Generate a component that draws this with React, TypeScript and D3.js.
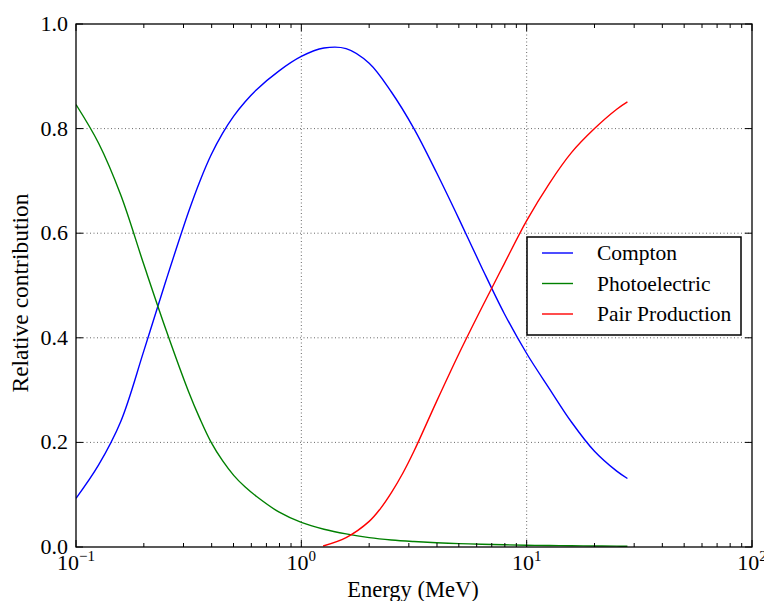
import React from "react";
import * as d3 from "d3";

const energies = [0.1, 0.126, 0.158, 0.2, 0.251, 0.316, 0.355, 0.398, 0.447, 0.501, 0.562, 0.631, 0.794, 1, 1.26, 1.58, 2, 2.51, 3.16, 3.98, 5.01, 6.31, 7.94, 10, 12.6, 15.8, 20, 25.1, 28];
const compton = [0.093, 0.157, 0.24, 0.375, 0.51, 0.641, 0.7, 0.75, 0.791, 0.824, 0.851, 0.874, 0.91, 0.938, 0.954, 0.953, 0.925, 0.87, 0.8, 0.716, 0.627, 0.535, 0.447, 0.37, 0.303, 0.239, 0.183, 0.145, 0.131];
const photoelectric = [0.846, 0.772, 0.673, 0.54, 0.415, 0.297, 0.245, 0.2, 0.165, 0.137, 0.115, 0.097, 0.067, 0.047, 0.034, 0.025, 0.018, 0.0135, 0.0105, 0.0082, 0.0065, 0.0052, 0.0042, 0.0034, 0.0028, 0.0023, 0.0019, 0.0016, 0.0015];
const pairEnergies = [1.25, 1.58, 2, 2.24, 2.51, 2.82, 3.16, 3.98, 5.01, 6.31, 7.94, 10, 12.6, 15.8, 20, 25.1, 28];
const pairProduction = [0.002, 0.018, 0.049, 0.073, 0.104, 0.141, 0.183, 0.278, 0.37, 0.457, 0.541, 0.624, 0.695, 0.754, 0.8, 0.837, 0.851];

const yTicks = [0, 0.2, 0.4, 0.6, 0.8, 1.0];
const xMajorTicks = [0.1, 1, 10, 100];
const xTickExponents = ["\u22121", "0", "1", "2"];
const seriesNames = ["Compton", "Photoelectric", "Pair Production"];
const seriesColors = ["#0000ff", "#008000", "#ff0000"];

const W = 764, H = 601;
const L = 76, R = 752, T = 24, B = 547;
const FONT = "'Liberation Serif', 'DejaVu Serif', serif";

export default function App() {
  const x = d3.scaleLog().domain([0.1, 100]).range([L, R]);
  const y = d3.scaleLinear().domain([0, 1]).range([B, T]);

  const minor: number[] = [];
  for (const dec of [0.1, 1, 10]) for (let k = 2; k <= 9; k++) minor.push(dec * k);

  const line = d3.line<[number, number]>().x(d => x(d[0])).y(d => y(d[1])).curve(d3.curveCatmullRom.alpha(0.5));
  const seriesData: [number, number][][] = [
    energies.map((e, i) => [e, compton[i]]),
    energies.map((e, i) => [e, photoelectric[i]]),
    pairEnergies.map((e, i) => [e, pairProduction[i]]),
  ];

  const majorLen = 7, minorLen = 4;
  const gridStyle = { stroke: "#000", strokeWidth: 0.6, strokeDasharray: "1,2.5", fill: "none" };

  return (
    <svg width={W} height={H} style={{ position: "absolute", left: 0, top: 0, background: "#fff" }} fontFamily={FONT}>
      <rect x={0} y={0} width={W} height={H} fill="#fff" />
      <defs>
        <clipPath id="clip"><rect x={L} y={T} width={R - L} height={B - T} /></clipPath>
      </defs>
      {yTicks.filter(t => t > 0 && t < 1).map(t => (
        <line key={"gy" + t} x1={L} x2={R} y1={y(t)} y2={y(t)} {...gridStyle} />
      ))}
      {xMajorTicks.filter(t => t > 0.1 && t < 100).map(t => (
        <line key={"gx" + t} x1={x(t)} x2={x(t)} y1={T} y2={B} {...gridStyle} />
      ))}
      <g clipPath="url(#clip)">
        {seriesData.map((d, i) => (
          <path key={i} d={line(d) || ""} fill="none" stroke={seriesColors[i]} strokeWidth={1.4} />
        ))}
      </g>
      <g stroke="#000" strokeWidth={1}>
        {xMajorTicks.map(t => (
          <g key={"xt" + t}>
            <line x1={x(t)} x2={x(t)} y1={B} y2={B - majorLen} />
            <line x1={x(t)} x2={x(t)} y1={T} y2={T + majorLen} />
          </g>
        ))}
        {minor.map(t => (
          <g key={"xm" + t}>
            <line x1={x(t)} x2={x(t)} y1={B} y2={B - minorLen} />
            <line x1={x(t)} x2={x(t)} y1={T} y2={T + minorLen} />
          </g>
        ))}
        {yTicks.map(t => (
          <g key={"yt" + t}>
            <line x1={L} x2={L + majorLen} y1={y(t)} y2={y(t)} />
            <line x1={R} x2={R - majorLen} y1={y(t)} y2={y(t)} />
          </g>
        ))}
      </g>
      <rect x={L} y={T} width={R - L} height={B - T} fill="none" stroke="#000" strokeWidth={1.3} />
      {yTicks.map(t => (
        <text key={"yl" + t} x={L - 8} y={y(t) + 7} textAnchor="end" fontSize={22} fill="#000">
          {t.toFixed(1)}
        </text>
      ))}
      {xMajorTicks.map((t, i) => (
        <text key={"xl" + t} x={x(t)} y={570} textAnchor="middle" fontSize={22} fill="#000">
          10<tspan fontSize={15} dy={-9}>{xTickExponents[i]}</tspan>
        </text>
      ))}
      <text x={413} y={597} textAnchor="middle" fontSize={22.5} fill="#000">Energy (MeV)</text>
      <text transform={`translate(28,293) rotate(-90)`} textAnchor="middle" fontSize={23.5} fill="#000">
        Relative contribution
      </text>
      <rect x={527} y={237} width={214} height={98} fill="#fff" stroke="#000" strokeWidth={1.5} />
      {seriesNames.map((n, i) => {
        const cy = 253 + i * 30.5;
        return (
          <g key={n}>
            <line x1={542} x2={573} y1={cy} y2={cy} stroke={seriesColors[i]} strokeWidth={1.4} />
            <text x={597} y={cy + 7} fontSize={21.5} fill="#000">{n}</text>
          </g>
        );
      })}
    </svg>
  );
}
